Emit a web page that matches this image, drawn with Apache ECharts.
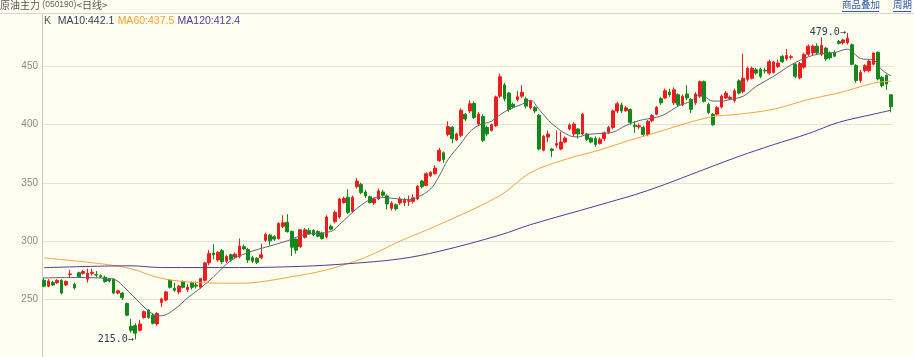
<!DOCTYPE html>
<html><head><meta charset="utf-8">
<script src="https://cdn.jsdelivr.net/npm/echarts@6/dist/echarts.min.js"></script>
<style>html,body{margin:0;padding:0;background:#fefef0;}#c{width:914px;height:357px;}</style>
</head><body><div id="c"></div>
<script>
// ---- data ----
const openArr = [
266,261,264,264,266,262,271,262.5,272.5,272,
267,272,271,270,268.5,267,267,255,255,246,
226.5,227,223,234,240.5,236,228.5,247,249,266,
259,256,265,258,264,262,260,266,281,289.5,
283.5,291.5,282.5,288,286,286.5,
295,292.5,285.5,285,285.5,300.5,305,303.5,302,312.5,
316,308,301.5,295,303,309,309,308,306.5,303.5,312.5,
316.5,320.5,333,337.5,325.5,346.6,348.6,342,338,332.6,
336,342,338.7,328,331,332.6,333,334,334,336,
351.4,347.7,356,357.8,369,375.8,391.6,397.7,387,390.8,409,411.8,
418.2,400.6,407,397.7,395,399.2,424.5,434.2,427.2,417.5,
421.6,424.5,422.2,414.6,414.6,408.2,378,389.3,379,382.3,
379,385,396.3,392,396.3,392,392,388.5,388,383.7,
388,393.5,
397.6,411.8,417,412,413,399.5,398,397.7,391.6,403.4,
409,422.4,423,428,418.8,425.8,417,426.4,421.6,418.8,
424.5,437,417.4,409,409,415.2,423,422.5,420.8,437.7,
428.7,
439,440,447.2,447.8,446.8,444.4,445,450,458.8,456.7,
458,452,440.3,449.5,460.6,461.8,467.6,460.6,465.9,461.8,
462.3,471.5,470.6,470.6,468.8,451,438,446.5,446.5,452,
462.3,440.7,442.6,425.7];
const closeArr = [
261,265.5,262,266,255,265,271.5,259.5,269,273.5,
272,273,270.5,269,265,265.5,255,257,251,236,
223,220.5,228.5,239,234,229,237.5,250,256,260,
257.5,261,260,260,260,261,267.5,281,289,288,
290,282,286.5,284,288.5,295.5,
293,283.5,282.5,281.5,288,305.5,300,301.5,315,315.5,
308,294.5,292,309.5,309.5,306,305,304,302,320.5,310,
324.5,336,336.5,324.5,337.5,351.4,341.5,338.7,333,336,
343,339.3,331.7,332.6,327.5,336,335,334.5,337,347,
346.6,357.8,359,362.6,378,370,398.3,387.9,392,412.4,404.8,418,
406.2,409,386.5,392,400,423.9,441.3,422.2,413,415.5,
424,427.8,416,420.2,411.8,379,390,392,377.8,383.7,
385,388.5,399.7,400.5,392,409,387.4,385,383,387.4,
393,397.6,
411.8,418,411.8,414.5,402,398.5,399,391.6,402.8,407.8,
415,418.8,429.2,425.8,430,417.4,424.5,423,413.2,426.4,
437,420.2,410.4,400,414.6,424.5,427.2,423.5,429.2,427.2,
440,
448.6,448.6,444.4,441.6,446.2,454.2,454,453,454.2,459.6,
458.5,441.6,452.6,460.4,467.6,467.6,461.8,468.2,456.6,457.5,
459,470,472.9,474.3,452,438,445,450.7,454.7,461.7,
439.3,433.7,435,415.4];
const lowArr = [
260,260,261,263,254,261,268.5,258,268,271,
264,270,268.5,268,264,264,254,254,249,235,
221,215,222,233,233,228,227,243,248,259,
256,254,259,256,258,259,259,265,279,284,
282,280,281,282,285,285,
292,281,281,280,284,299,296,300,301,311,
307,287,289,294,302,305,304,303,301,302,309,
315,319,332,323,324,345,340,337,332,331,
335,338,327,326,326,331,330,330,332,335,
345,347,355,357,368,367,390,384,386,389,403,410,
405,399,385,390,394,398,423,420,411,414,
420,423,414,413,410,378,377,385,372,380,
378,384,395,390,388,391,386,384,381,383,
386,392,
396,410,410,411,400,393,396,390,390,402,
408,417,422,424,417,416,416,421,410,417,
423,419,409,399,408,414,422,421,419,426,
427,
437,439,443,440,444,443,444,449,453,455,
456,440,439,448,459,460,460,459,455,456,
458,469,469,469,451,436,436,445,445,451,
438,432,430,410.7];
const highArr = [
268.5,267,265.5,267,267,266,275,264,273.5,275,
276,276,274,271,270,268,268,258,256,247,
233,229,232,240,241,238,238.5,251,257,267,
264,262,266,263,265,265,268,282,292,297,
291,293,288,289,290,302,
297,294,287,286,297.5,307,306,305,316,322,
323,309,302,310,311,311,310,309,308,322,314,
326,337,338,344.5,339,354,350,344,339,337,
345,344,340,334,332,338,337,339,340,348,
352.5,359,360,365,380,377,403,399,393,414,410,421,
420,411,409,399,401,425,444,436,428,419,
429,434,424,421,416,409,391,395,380,395,
394,390,401,402,397,410,393,389,390,389,
394,399,
413,420,419,416,414,403,401,399,404,409,
416,424,431,431,432,427,426,434,423,428,
438,438,419,410,416,426,429,425,431,439,
461,
450,450,449,449,449,456,455,456,460,465,
460,453,454,462,469,469,470,475,467,463,
464,473,474,479,470,452,447,452,456,462,
463,442,443,426];

const ma10Idx = [0,6,13,16,19,22,25,27,30,33,36,39,43,47,51,56,60,66,68,73,77,81,84,86,89,91,93,96,98,100,103,105,107,110,112,114,117,121,123,125,128,131,134,137,139,141,143,146,149,151,152,154,156,158,161,164,168,172,176,179,182,185,186,188,191,193,195];
const ma10Val = [268,268.5,268,267,258,246.6,237,235.5,241,250.8,259.3,269,283,290,294.5,300,305.5,308,314,330.7,337.6,336.3,335.4,337.6,344.6,355.9,369.9,383.9,393.7,399.3,403,408.5,413,417.5,421,413,400.7,390.5,389.5,391.5,392.4,393.5,399.3,403.5,405,406.3,409,416,420.3,425.9,424.5,420.3,420.3,421.7,424.5,433,441.6,451.4,458.4,461.2,462,465,463,457,455.6,447,442.1];
const ma60Idx = [0,13,20,27,36,45,59,66,74,82,91,105,112,120,128,135,139,153,160,168,176,183,191,195];
const ma60Val = [285.3,280.3,276,267.7,264,263.5,270.4,276,285.8,299.8,314,339,358.7,370,378.3,386.7,391,406.3,409,413.3,421.7,427.3,435.7,437.5];
const ma120Idx = [0,20,27,45,59,70,82,91,105,112,128,139,154,160,168,176,183,191,195];
const ma120Val = [276.9,278.5,277,277,278,280.3,284.5,291,305,313.9,331,343.3,364.3,372.7,382.8,392.3,402,409,412.4];

const yTicks = [250,300,350,400,450];
const titleText = '原油主力';
const codeText = '(050190)';
const periodText = '<日线>';
const legendLast = {ma10: '442.1', ma60: '437.5', ma120: '412.4'};
const links = ['商品叠加','周期'];

// ---- build ----
const categories = openArr.map((_, i) => String(i + 1));
const kData = openArr.map((o, i) => [o, closeArr[i], lowArr[i], highArr[i]]);
const pairs = (idx, val) => idx.map((k, j) => [String(k + 1), val[j]]);

const BG = '#fefef0';
const UP = '#ee1c1c', DOWN = '#13891a';
const chart = echarts.init(document.getElementById('c'), null, {renderer: 'canvas'});
chart.setOption({
  animation: false,
  backgroundColor: BG,
  grid: {left: 42, right: 21, top: 8.5, bottom: -8.5},
  xAxis: {type: 'category', data: categories, boundaryGap: true,
    axisLine: {show: false}, axisTick: {show: false}, axisLabel: {show: false}, splitLine: {show: false}},
  yAxis: {type: 'value', min: 200, max: 500, interval: 50,
    axisLine: {show: true, lineStyle: {color: '#c9c9c9'}}, axisTick: {show: false},
    axisLabel: {color: '#8a8a8a', fontSize: 10, fontFamily: 'Liberation Sans', margin: 4,
      formatter: v => yTicks.indexOf(v) >= 0 ? String(v) : ''},
    splitLine: {show: true, lineStyle: {color: '#e2e2da', width: 1}}},
  series: [
    {type: 'candlestick', data: kData, barWidth: 3.2,
      itemStyle: {color: UP, color0: DOWN, borderColor: UP, borderColor0: DOWN, borderWidth: 1},
      markPoint: {symbol: 'circle', symbolSize: 1, itemStyle: {color: 'rgba(0,0,0,0)'},
        label: {show: true, position: 'left', distance: 1, color: '#2f3a55', fontSize: 10,
          fontFamily: 'DejaVu Sans Mono', formatter: p => Number(p.value).toFixed(1) + '→'},
        data: [{type: 'max', valueDim: 'highest'}, {type: 'min', valueDim: 'lowest'}]}},
    {type: 'line', data: pairs(ma10Idx, ma10Val), smooth: 0.35, showSymbol: false, symbol: 'none',
      lineStyle: {color: '#5c6578', width: 1}, z: 3},
    {type: 'line', data: pairs(ma60Idx, ma60Val), smooth: 0.35, showSymbol: false, symbol: 'none',
      lineStyle: {color: '#f2a440', width: 1}, z: 3},
    {type: 'line', data: pairs(ma120Idx, ma120Val), smooth: 0.35, showSymbol: false, symbol: 'none',
      lineStyle: {color: '#4d3c98', width: 1}, z: 3}
  ],
  graphic: [
    {type: 'rect', z: 100, shape: {x: 0, y: 0, width: 914, height: 13}, style: {fill: BG}},
    {type: 'line', z: 101, shape: {x1: 0, y1: 13.5, x2: 914, y2: 13.5}, style: {stroke: '#d6d6d0', lineWidth: 1}},
    {type: 'text', z: 101, left: 0, top: 0, style: {
      text: '{t|' + titleText + '}{c| ' + codeText + '}{p|' + periodText + '}',
      rich: {t: {fontSize: 10, fill: '#555', fontFamily: 'Noto Sans CJK SC'},
             c: {fontSize: 8.5, fill: '#666', fontFamily: 'Liberation Sans'},
             p: {fontSize: 10, fill: '#555', fontFamily: 'Noto Sans CJK SC'}}}},
    {type: 'text', z: 101, left: 842, top: 0, style: {text: links[0], fontSize: 9.5, fill: '#2f58ad', fontFamily: 'Noto Sans CJK SC'}},
    {type: 'line', z: 101, shape: {x1: 842, y1: 11.5, x2: 879, y2: 11.5}, style: {stroke: '#2f58ad', lineWidth: 1}},
    {type: 'text', z: 101, left: 893, top: 0, style: {text: links[1], fontSize: 9.5, fill: '#2f58ad', fontFamily: 'Noto Sans CJK SC'}},
    {type: 'line', z: 101, shape: {x1: 893, y1: 11.5, x2: 911, y2: 11.5}, style: {stroke: '#2f58ad', lineWidth: 1}},
    {type: 'text', z: 101, left: 44, top: 15, style: {
      text: '{k|K}  {a|MA10:' + legendLast.ma10 + '} {b|MA60:' + legendLast.ma60 + '} {c|MA120:' + legendLast.ma120 + '}',
      rich: {k: {fontSize: 10.5, fill: '#555', fontFamily: 'Liberation Sans'},
             a: {fontSize: 10.5, fill: '#36405a', fontFamily: 'Liberation Sans'},
             b: {fontSize: 10.5, fill: '#f0a030', fontFamily: 'Liberation Sans'},
             c: {fontSize: 10.5, fill: '#56389a', fontFamily: 'Liberation Sans'}}}}
  ]
});
</script></body></html>
